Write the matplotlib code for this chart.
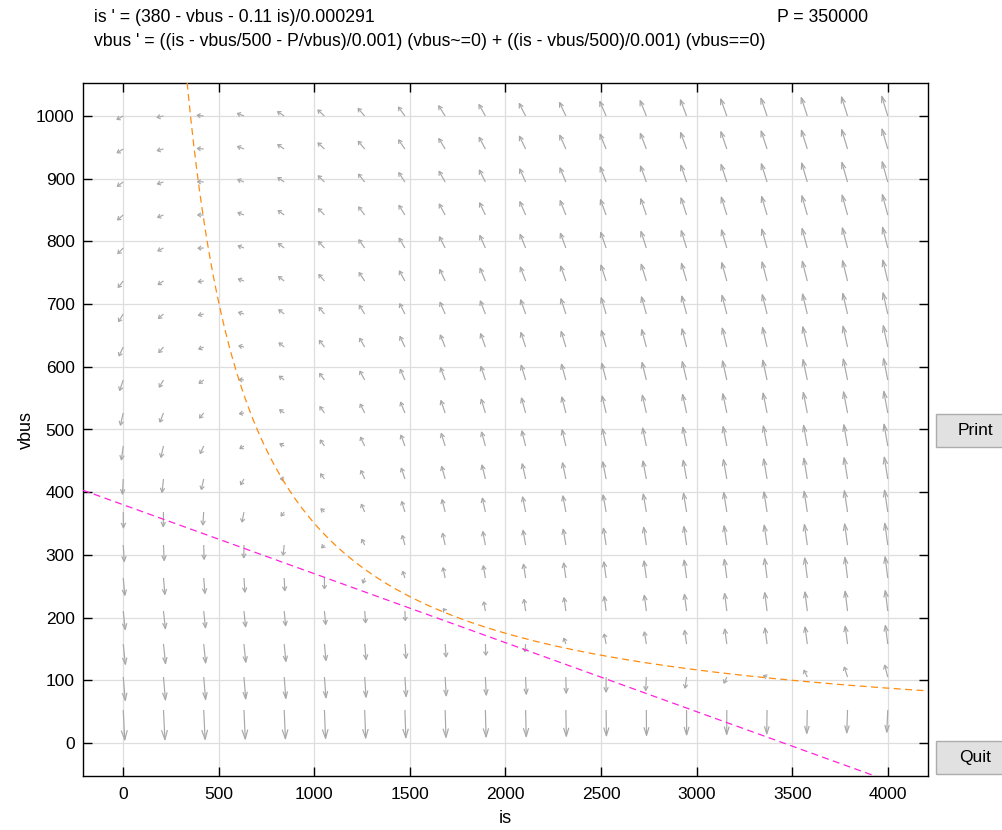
import numpy as np
import matplotlib
matplotlib.use("Agg")
import matplotlib.pyplot as plt
from matplotlib.collections import LineCollection
from matplotlib.patches import Rectangle

plt.rcParams['font.family'] = ['Liberation Sans', 'DejaVu Sans']
plt.rcParams['lines.scale_dashes'] = False

# ---- system parameters (shown in the header text) ----
P = 350000
V0 = 380.0
R = 0.11
L_IND = 0.000291
C_CAP = 0.001
R_LOAD = 500.0

# ---- direction-field grid ----
is_grid = np.linspace(0, 4000, 20)
vbus_grid = np.linspace(0, 1000, 20)

# ---- axes ----
xlim = (-210.5, 4210.5)
ylim = (-52.6, 1052.6)
xticks = [0, 500, 1000, 1500, 2000, 2500, 3000, 3500, 4000]
yticks = [0, 100, 200, 300, 400, 500, 600, 700, 800, 900, 1000]
xlabel = "is"
ylabel = "vbus"
header1 = "is ' = (380 - vbus - 0.11 is)/0.000291"
header2 = "vbus ' = ((is - vbus/500 - P/vbus)/0.001) (vbus~=0) + ((is - vbus/500)/0.001) (vbus==0)"
header_p = "P = 350000"

W, H = 1002, 830
fig = plt.figure(figsize=(W / 100, H / 100), dpi=100)
ax = fig.add_axes([83 / W, (H - 776) / H, (928 - 83) / W, (776 - 83) / H])
ax.set_xlim(*xlim)
ax.set_ylim(*ylim)
ax.set_xticks(xticks)
ax.set_yticks(yticks)
ax.tick_params(direction='in', top=True, right=True, length=6.5, width=1,
               labelsize=12.5, pad=8)
ax.tick_params(axis='y', pad=6)
ax.grid(True, color='#dedede', lw=0.9)
ax.set_axisbelow(True)
for s in ax.spines.values():
    s.set_linewidth(1)
ax.set_xlabel(xlabel, fontsize=13, labelpad=6)
ax.set_ylabel(ylabel, fontsize=13, labelpad=1)

# ---- vector field ----
IS, VB = np.meshgrid(is_grid, vbus_grid)
with np.errstate(divide='ignore', invalid='ignore'):
    d_is = (V0 - VB - R * IS) / L_IND
    d_vb = ((IS - VB / R_LOAD - P / VB) / C_CAP) * (VB != 0) + ((IS - VB / R_LOAD) / C_CAP) * (VB == 0)

fig.canvas.draw()
T = ax.transData
inv = T.inverted()

segs = []
for i in range(IS.shape[0]):
    for j in range(IS.shape[1]):
        u, v = d_is[i, j], d_vb[i, j]
        if not (np.isfinite(u) and np.isfinite(v)):
            continue
        Mraw = np.hypot(u, v)
        if Mraw == 0:
            continue
        scale = 0.27 * Mraw ** (0.33 - 1.0)
        tail = T.transform((IS[i, j], VB[i, j]))
        tip = T.transform((IS[i, j] + scale * u, VB[i, j] + scale * v))
        d = tip - tail
        Lp = np.hypot(*d)
        if Lp > 34:
            d = d * 34 / Lp
            Lp = 34
            tip = tail + d
        ux, uy = d / Lp
        hl = max(0.32 * Lp, 3.2)
        hw = min(max(0.1 * Lp, 2.2), 3.0)
        base = tip - hl * np.array([ux, uy])
        nrm = np.array([-uy, ux])
        h1 = base + hw * nrm
        h2 = base - hw * nrm
        segs.append(inv.transform([tail, tip]))
        segs.append(inv.transform([h1, tip, h2]))
lc = LineCollection(segs, colors='#a8a8a8', linewidths=0.85, zorder=2)
ax.add_collection(lc)

# ---- nullclines ----
vb_curve = np.linspace(70, 1060, 600)
is_curve = P / vb_curve + vb_curve / R_LOAD
ax.plot(is_curve, vb_curve, color='#ff8c10', lw=0.9, dashes=(5, 3.2), zorder=3)
is_line = np.linspace(xlim[0], xlim[1], 50)
ax.plot(is_line, V0 - R * is_line, color='#ff22dd', lw=0.9, dashes=(5, 3.2), zorder=3)

# ---- header text ----
fig.text(94 / W, 1 - 17 / H, header1, fontsize=12.7, va='center', ha='left')
fig.text(94 / W, 1 - 42 / H, header2, fontsize=12.7, va='center', ha='left')
fig.text(777 / W, 1 - 17 / H, header_p, fontsize=12.7, va='center', ha='left')

# ---- buttons ----
for label, y0, y1 in [("Print", 414, 447), ("Quit", 741, 774)]:
    fig.patches.append(Rectangle((936 / W, 1 - y1 / H), (W - 936 + 5) / W, (y1 - y0) / H,
                                 transform=fig.transFigure, facecolor='#e1e1e1',
                                 edgecolor='#adadad', lw=1))
    fig.text(975 / W, 1 - (y0 + y1) / 2 / H, label, fontsize=12.5, ha='center', va='center')

fig.savefig("out.png", dpi=100)
